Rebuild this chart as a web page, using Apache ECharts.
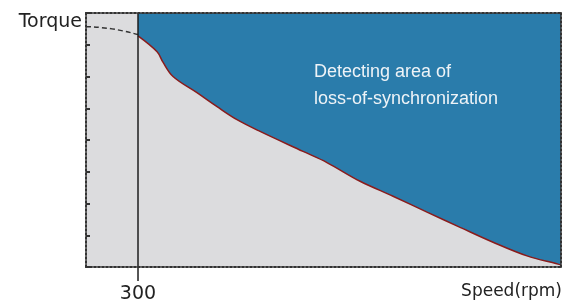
<!DOCTYPE html>
<html>
<head>
<meta charset="utf-8">
<script src="https://cdn.jsdelivr.net/npm/echarts@6/dist/echarts.min.js"></script>
<style>
  html, body { margin: 0; padding: 0; background: #fff; }
  #chart { width: 569px; height: 304px; }
</style>
</head>
<body>
<div id="chart"></div>
<script>
// speed (rpm) / torque points
const curveSpeed = [300, 410, 444, 502, 640, 756, 871, 1004, 1252, 1390, 1581, 1771, 1967, 2158, 2348, 2544, 2723, 2740];
const curveTorque = [7.28, 6.78, 6.45, 6.0, 5.49, 5.05, 4.64, 4.27, 3.64, 3.29, 2.70, 2.23, 1.73, 1.25, 0.78, 0.35, 0.09, 0.06];
const lowSpeed = [0, 150, 300];
const lowTorque = [7.57, 7.5, 7.32];
const markerSpeed = 300;
const markerTorque = [-0.44, 8];
const speedMax = 2740;
const torqueMax = 8;

const dotted = { color: '#333', width: 2, type: 'dotted' };

const chart = echarts.init(document.getElementById('chart'));
const option = {
  animation: false,
  grid: {
    left: 86, right: 8, top: 13, bottom: 36,
    show: true,
    backgroundColor: '#dcdcde',
    borderWidth: 0
  },
  xAxis: [
    {
      type: 'value', min: 0, max: speedMax, position: 'bottom', z: 10,
      axisLine: { show: true, onZero: false, lineStyle: dotted },
      axisTick: { show: false },
      splitLine: { show: false },
      axisLabel: {
        customValues: [markerSpeed],
        fontSize: 19, fontFamily: 'DejaVu Sans', color: '#222', margin: 18
      }
    },
    {
      type: 'value', min: 0, max: speedMax, position: 'top', z: 10,
      axisLine: { show: true, onZero: false, lineStyle: dotted },
      axisTick: { show: false }, axisLabel: { show: false }, splitLine: { show: false }
    }
  ],
  yAxis: [
    {
      type: 'value', min: 0, max: torqueMax, interval: 1, position: 'left', z: 10,
      axisLine: { show: true, onZero: false, lineStyle: dotted },
      axisTick: { show: true, inside: true, length: 4, lineStyle: { color: '#333', width: 2 } },
      axisLabel: { show: false }, splitLine: { show: false }
    },
    {
      type: 'value', min: 0, max: torqueMax, position: 'right', z: 10,
      axisLine: { show: true, onZero: false, lineStyle: dotted },
      axisTick: { show: false }, axisLabel: { show: false }, splitLine: { show: false }
    }
  ],
  series: [
    {
      type: 'line',
      data: curveSpeed.map((s, i) => [s, curveTorque[i]]),
      smooth: 0.35,
      symbol: 'none',
      lineStyle: { color: '#8a1c1c', width: 1.5 },
      areaStyle: { origin: 'end', color: '#2a7cab', opacity: 1 },
      z: 3
    },
    {
      type: 'line',
      data: lowSpeed.map((s, i) => [s, lowTorque[i]]),
      smooth: true,
      symbol: 'none',
      lineStyle: { color: '#333', width: 1.5, type: [5, 3] },
      z: 4
    },
    {
      type: 'line',
      data: markerTorque.map(t => [markerSpeed, t]),
      symbol: 'none',
      clip: false,
      lineStyle: { color: '#1e1e1e', width: 1.5 },
      z: 5
    }
  ],
  graphic: [
    {
      type: 'text', right: 569 - 82, top: 13,
      style: { text: 'Torque', fontSize: 19, fontFamily: 'DejaVu Sans', fill: '#222' }
    },
    {
      type: 'text', right: 7, top: 283,
      style: { text: 'Speed(rpm)', fontSize: 17, fontFamily: 'DejaVu Sans', fill: '#222' }
    },
    {
      type: 'text', left: 314, top: 59, z: 20,
      style: {
        text: 'Detecting area of\nloss-of-synchronization',
        fontSize: 18, lineHeight: 27, fontFamily: 'Liberation Sans', fill: '#eef3f7'
      }
    }
  ]
};
chart.setOption(option);
</script>
</body>
</html>
